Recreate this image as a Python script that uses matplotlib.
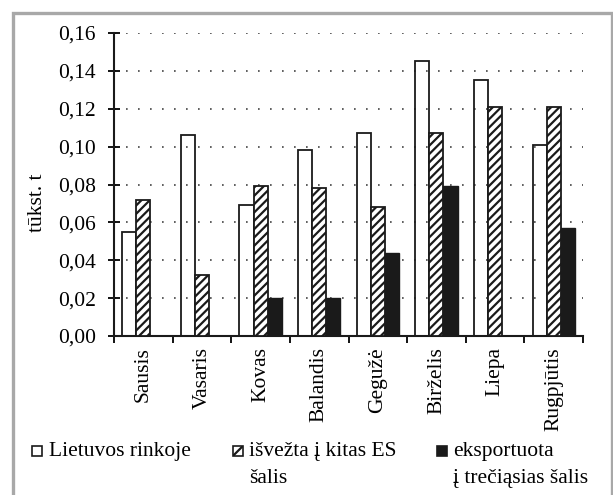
import matplotlib
matplotlib.use("Agg")
import matplotlib.pyplot as plt
from matplotlib.patches import Rectangle
import numpy as np

plt.rcParams['font.family'] = ['Liberation Serif', 'DejaVu Serif']
plt.rcParams['hatch.linewidth'] = 1.6

# duomenys
menesiai = ["Sausis", "Vasaris", "Kovas", "Balandis", "Gegužė", "Birželis", "Liepa", "Rugpjūtis"]
lietuvos_rinkoje = [0.055, 0.106, 0.069, 0.098, 0.107, 0.145, 0.135, 0.101]
isvezta_es = [0.072, 0.032, 0.079, 0.078, 0.068, 0.107, 0.121, 0.121]
eksportuota = [0.0, 0.0, 0.020, 0.020, 0.044, 0.079, 0.0, 0.057]
y_ticks = [0.00, 0.02, 0.04, 0.06, 0.08, 0.10, 0.12, 0.14, 0.16]
legend_labels = ["Lietuvos rinkoje", "išvežta į kitas ES\nšalis", "eksportuota\nį trečiąsias šalis"]

W, H = 613, 495
fig = plt.figure(figsize=(W / 100, H / 100), dpi=100)

# pilkas rėmelis
fig.add_artist(Rectangle((12.5 / W, -0.05), (611.5 - 12.5) / W, 1.05 - 12.5 / H,
                         transform=fig.transFigure, fill=False,
                         edgecolor='#a8a8a8', linewidth=2.4))

ax = fig.add_axes([114 / W, (H - 336) / H, (583 - 114) / W, (336 - 33) / H])

x = np.arange(len(menesiai)) + 0.5
bw = 0.24
ax.bar(x - bw, lietuvos_rinkoje, bw, facecolor='none', edgecolor='#1a1a1a', linewidth=1.3, zorder=3)
ax.bar(x, isvezta_es, bw, facecolor='white', edgecolor='#1a1a1a', hatch='////', linewidth=1.3, zorder=3)
ax.bar(x + bw, eksportuota, bw, facecolor='#1a1a1a', edgecolor='#1a1a1a', linewidth=1.0, zorder=3)

ax.set_xlim(0, len(menesiai))
ax.set_ylim(0, 0.16)
ax.set_yticks(y_ticks)
ax.set_yticklabels([f"{v:.2f}".replace('.', ',') for v in y_ticks], fontsize=15.5)
ax.set_xticks(np.arange(len(menesiai) + 1))
ax.set_xticklabels([])
ax.set_xticks(x, minor=True)
ax.set_xticklabels(menesiai, minor=True, rotation=90, fontsize=15.5, va='top')
ax.tick_params(axis='x', which='minor', length=0, pad=8)
ax.tick_params(axis='x', which='major', direction='out', length=5, width=1.3)
ax.tick_params(axis='y', direction='inout', length=8, width=1.3, pad=9)

for v in y_ticks[1:]:
    ax.axhline(v, color='#444444', linewidth=1.2, linestyle=(0, (1, 6.2)), zorder=1)

for s in ['top', 'right']:
    ax.spines[s].set_visible(False)
for s in ['left', 'bottom']:
    ax.spines[s].set_linewidth(1.5)
    ax.spines[s].set_color('#1a1a1a')

ax.set_ylabel("tūkst. t", fontsize=15.5)
ax.yaxis.set_label_coords(-0.143, 0.44)

# legenda
legend_styles = [dict(facecolor='white', hatch=None),
                 dict(facecolor='white', hatch='///'),
                 dict(facecolor='#1a1a1a', hatch=None)]
box_x = [32, 233, 437]
text_x = [49, 249, 453]
for bx, tx, lab, st in zip(box_x, text_x, legend_labels, legend_styles):
    fig.add_artist(Rectangle((bx / W, (H - 456) / H), 10 / W, 10 / H,
                             transform=fig.transFigure, edgecolor='#1a1a1a',
                             linewidth=1.2, **st))
    first, *rest = lab.split("\n")
    fig.text(tx / W, (H - 456) / H, first, fontsize=15.5, va='baseline', ha='left')
    for k, line in enumerate(rest, start=1):
        fig.text(tx / W, (H - 456 - 27 * k) / H, line, fontsize=15.5,
                 va='baseline', ha='left')

fig.savefig("out.png", dpi=100)
